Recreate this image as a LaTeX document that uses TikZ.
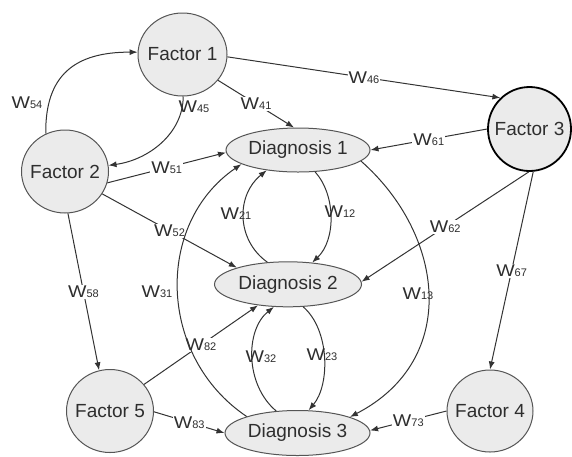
\documentclass[tikz,border=0pt]{standalone}
\usepackage{fontspec}
\setmainfont{Liberation Sans}
\usetikzlibrary{arrows.meta,shapes.geometric}
\definecolor{nodefill}{HTML}{EBEBEB}
\definecolor{nodeline}{HTML}{555555}
\definecolor{linecol}{HTML}{333333}
\definecolor{textcol}{HTML}{2E2E2E}
\newcommand\Wlab[1]{\scalebox{1.15}[1]{W}{\fontsize{11}{12}\selectfont #1}}
\newcommand\zbox[1]{\makebox[0pt]{#1}}
\begin{document}
\begin{tikzpicture}[x=1pt,y=-1pt,
  factor/.style={ellipse, draw=nodeline, fill=nodefill, line width=1pt, inner sep=0pt,
    font=\fontsize{19}{22}\selectfont, text=textcol},
  diag/.style={factor},
  conn/.style={draw=linecol, line width=1pt, -{Latex[length=8pt,width=6pt]}},
  lab/.style={fill=white, inner sep=1pt, font=\fontsize{17}{20}\selectfont, text=textcol},
  clab/.style={inner sep=0pt, font=\fontsize{17}{20}\selectfont, text=textcol}]
\useasboundingbox[fill=white] (0,0) rectangle (572,456);
% nodes
\node[factor, minimum width=89pt, minimum height=83pt] (F1) at (182.5,54.5) {\zbox{Factor 1}};
\node[factor, minimum width=87pt, minimum height=83pt] (F2) at (65,171.5) {\zbox{Factor 2}};
\node[factor, minimum width=83pt, minimum height=84pt, draw=black, line width=1.8pt] (F3) at (529.5,129) {\zbox{Factor 3}};
\node[factor, minimum width=86pt, minimum height=82pt] (F4) at (490,411) {\zbox{Factor 4}};
\node[factor, minimum width=87pt, minimum height=83pt] (F5) at (110,411) {\zbox{Factor 5}};
\node[diag, minimum width=144pt, minimum height=44pt] (D1) at (298,150) {\zbox{Diagnosis 1}};
\node[diag, minimum width=147pt, minimum height=45pt] (D2) at (288,284.3) {\zbox{Diagnosis 2}};
\node[diag, minimum width=145pt, minimum height=45pt] (D3) at (297.5,433) {\zbox{Diagnosis 3}};
% straight connectors
\draw[conn] (F1.-3) -- node[lab] (l46) {\Wlab{46}} (F3.133);
\draw[conn] (F1.-36) -- node[lab] (l41) {\Wlab{41}} (D1.100);
\draw[conn] (F2.-15) -- node[lab] (l51) {\Wlab{51}} (D1.182);
\draw[conn] (F2.-31) -- node[lab] (l52) {\Wlab{52}} (D2.162);
\draw[conn] (F2.-86) -- node[lab] (l58) {\Wlab{58}} (F5.105);
\draw[conn] (F3.180) -- node[lab] (l61) {\Wlab{61}} (D1.0);
\draw[conn] (F3.-91) -- node[lab] (l62) {\Wlab{62}} (D2.2);
\draw[conn] (F3.-85) -- node[lab] (l67) {\Wlab{67}} (F4.90);
\draw[conn] (F4.180) -- node[lab] (l73) {\Wlab{73}} (D3.2);
\draw[conn] (F5.38) -- node[lab] (l82) {\Wlab{82}} (D2.215);
\draw[conn] (F5.-1) -- node[lab] (l83) {\Wlab{83}} (D3.180);
% curved connectors
\draw[conn] (F2.117) .. controls (45,75) and (75,52) .. (F1.177);
\draw[conn] (F1.-89) .. controls (183,134) and (148,160) .. (F2.8);
\draw[conn] (D1.-52) .. controls (336,195) and (336,240) .. (D2.42);
\draw[conn] (D2.133) .. controls (236,240) and (236,195) .. (D1.213);
\draw[conn] (D2.-56) .. controls (330,330) and (330,385) .. (D3.64);
\draw[conn] (D3.134) .. controls (245,385) and (245,330) .. (D2.238);
\draw[conn] (D3.162) .. controls (158,357) and (154,224) .. (D1.194);
\draw[conn] (D1.-10) .. controls (445,235) and (460,360) .. (D3.17);
% curve labels
\node[clab] (l54) at (27,103) {\Wlab{54}};
\node[clab] (l45) at (194,107) {\Wlab{45}};
\node[clab] (l12) at (340,212) {\Wlab{12}};
\node[clab] (l21) at (236,214) {\Wlab{21}};
\node[clab] (l23) at (322,355) {\Wlab{23}};
\node[clab] (l32) at (261,357) {\Wlab{32}};
\node[clab] (l31) at (157,292) {\Wlab{31}};
\node[clab] (l13) at (418,294) {\Wlab{13}};
\end{tikzpicture}
\end{document}
